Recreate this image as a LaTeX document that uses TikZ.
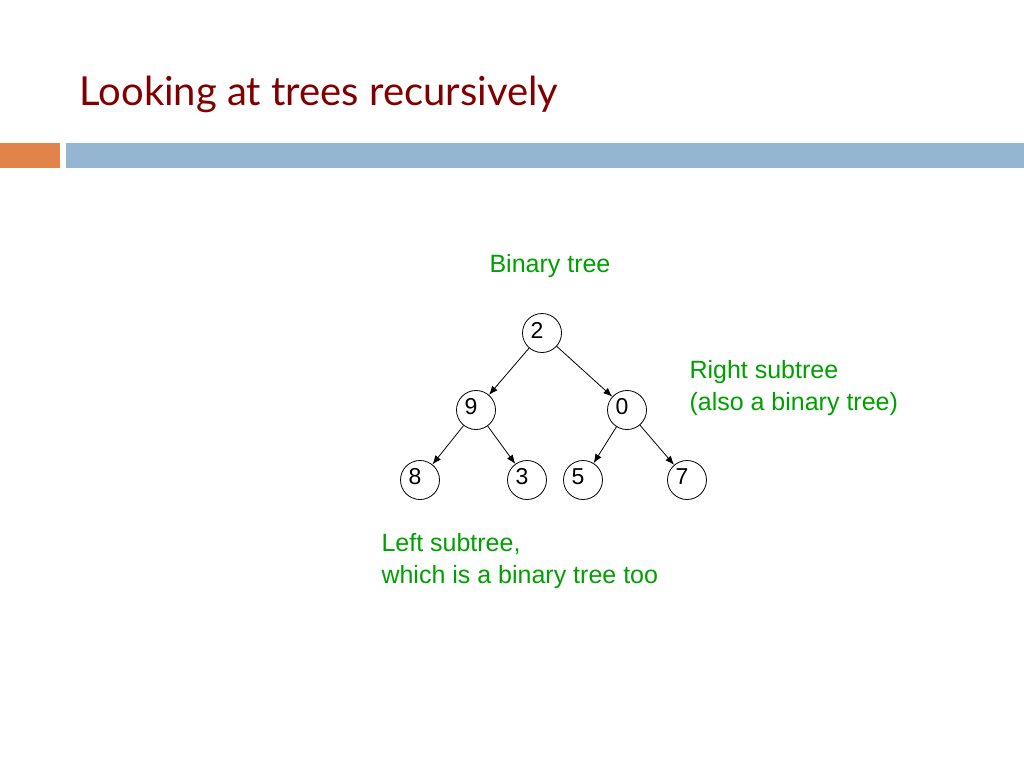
\documentclass[tikz,border=0pt]{standalone}
\usepackage{fontspec}
\setmainfont{Liberation Sans}
\newfontfamily\titlefont{Lato}
\usetikzlibrary{arrows.meta}
\definecolor{ttl}{RGB}{128,0,0}
\definecolor{grn}{RGB}{0,160,0}
\definecolor{org}{RGB}{224,132,74}
\definecolor{blu}{RGB}{148,182,210}
\begin{document}
\begin{tikzpicture}[x=1pt,y=-1pt,
  tn/.style={circle,draw,thick,minimum size=39pt,inner sep=0pt},
  num/.style={font=\fontsize{23}{25}\selectfont},
  lbl/.style={text=grn,font=\fontsize{25}{32}\selectfont,align=left},
  edge/.style={thick,-{Latex[length=9pt,width=7pt]}}]
\useasboundingbox (0,0) rectangle (1024,768);
\fill[white] (0,0) rectangle (1024,768);
\node[anchor=west,text=ttl,font=\titlefont\fontsize{40}{42}\selectfont] (title) at (76,94) {Looking at trees recursively};
\fill[org] (0,143) rectangle (60,168);
\fill[blu] (66,143) rectangle (1024,168);
\node[tn] (n2) at (542,333) {};
\node[tn] (n9) at (476,410) {};
\node[tn] (n0) at (627,410) {};
\node[tn] (n8) at (420,480) {};
\node[tn] (n3) at (527,480) {};
\node[tn] (n5) at (583,480) {};
\node[tn] (n7) at (687,480) {};
\foreach \n/\t in {n2/2,n9/9,n0/0,n8/8,n3/3,n5/5,n7/7}
  \node[num] at ([xshift=-5pt,yshift=3pt]\n.center) {\t};
\draw[edge] (n2) -- (n9);
\draw[edge] (n2) -- (n0);
\draw[edge] (n9) -- (n8);
\draw[edge] (n9) -- (n3);
\draw[edge] (n0) -- (n5);
\draw[edge] (n0) -- (n7);
\node[lbl,anchor=west] (bt) at (486,266) {Binary tree};
\node[lbl,anchor=west] (rs) at (686,388) {Right subtree\\(also a binary tree)};
\node[lbl,anchor=west] (ls) at (378,561) {Left subtree,\\which is a binary tree too};
\end{tikzpicture}
\end{document}
